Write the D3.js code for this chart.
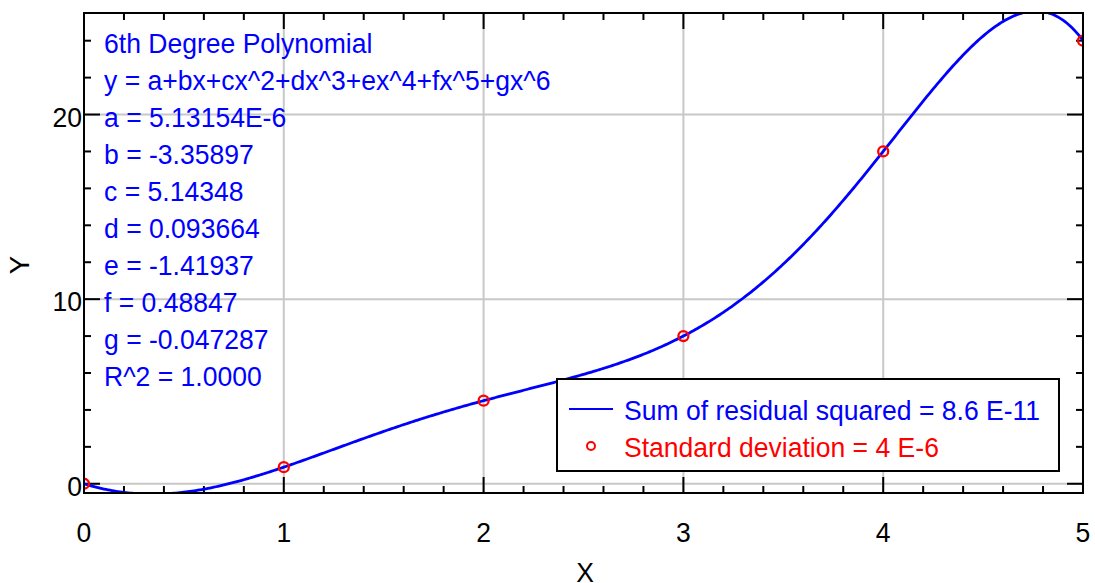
<!DOCTYPE html>
<html>
<head>
<meta charset="utf-8">
<script src="https://cdn.jsdelivr.net/npm/d3@7"></script>
<style>
body { margin: 0; background: #fff; }
text { font-family: "Liberation Sans", Arial, sans-serif; }
</style>
</head>
<body>
<svg id="chart" width="1095" height="583"></svg>
<script>
// data points
var xData = [0, 1, 2, 3, 4, 5];
var yData = [0, 0.9, 4.5, 8, 18, 24];

// fitted coefficients a..g, shown in the note
var coefs = [5.13154E-6, -3.35897, 5.14348, 0.093664, -1.41937, 0.48847, -0.047287];

var xTicks = [0, 1, 2, 3, 4, 5];
var yTicks = [0, 10, 20];

var infoLines = [
	"6th Degree Polynomial",
	"y = a+bx+cx^2+dx^3+ex^4+fx^5+gx^6",
	"a = 5.13154E-6",
	"b = -3.35897",
	"c = 5.14348",
	"d = 0.093664",
	"e = -1.41937",
	"f = 0.48847",
	"g = -0.047287",
	"R^2 = 1.0000"
];
var legendLabels = ["Sum of residual squared = 8.6 E-11", "Standard deviation = 4 E-6"];

var pLeft = 84, pRight = 1083, pTop = 13, pBottom = 493;
var fs = 27.5, squeeze = 0.965;

var svg = d3.select("#chart");

var x = d3.scaleLinear().domain([0, 5]).range([pLeft, pRight]);
var y = d3.scaleLinear().domain([-0.5, 25.5]).range([pBottom, pTop]);

var xMinor = d3.range(0, 5.001, 0.2);
var yMinor = d3.range(0, 25, 2);

// text is a bit taller and narrower than plain Arial in the original
function place(sel, fx, fy) {
	sel.attr("transform", function (d, i) {
		return "translate(" + fx(d, i) + "," + fy(d, i) + ") scale(" + squeeze + ",1)";
	}).style("font-size", fs + "px");
}

svg.append("defs").append("clipPath")
	.attr("id", "plotclip")
	.append("rect")
	.attr("x", pLeft).attr("y", pTop)
	.attr("width", pRight - pLeft).attr("height", pBottom - pTop);

// grid
svg.selectAll(".gx")
	.data(xTicks.slice(1, -1))
	.enter().append("line")
	.attr("class", "gx")
	.attr("x1", function (d) { return x(d); })
	.attr("x2", function (d) { return x(d); })
	.attr("y1", pTop).attr("y2", pBottom)
	.attr("stroke", "#c8c8c8").attr("stroke-width", 2);
svg.selectAll(".gy")
	.data(yTicks)
	.enter().append("line")
	.attr("class", "gy")
	.attr("y1", function (d) { return y(d); })
	.attr("y2", function (d) { return y(d); })
	.attr("x1", pLeft).attr("x2", pRight)
	.attr("stroke", "#c8c8c8").attr("stroke-width", 2);

// ticks (all pointing inward)
function tickLines(cls, data, fn) {
	svg.selectAll("." + cls)
		.data(data)
		.enter().append("line")
		.attr("class", cls)
		.each(fn)
		.attr("stroke", "#000").attr("stroke-width", 2);
}
function isMajorX(d) { return Math.abs(d - Math.round(d)) < 1e-6; }
function isMajorY(d) { return d % 10 == 0; }

tickLines("tb", xMinor, function (d) {
	var l = isMajorX(d) ? 16 : 7;
	d3.select(this).attr("x1", x(d)).attr("x2", x(d)).attr("y1", pBottom).attr("y2", pBottom - l);
});
tickLines("tt", xMinor, function (d) {
	var l = isMajorX(d) ? 16 : 7;
	d3.select(this).attr("x1", x(d)).attr("x2", x(d)).attr("y1", pTop).attr("y2", pTop + l);
});
tickLines("tl", yMinor, function (d) {
	var l = isMajorY(d) ? 16 : 7;
	d3.select(this).attr("y1", y(d)).attr("y2", y(d)).attr("x1", pLeft).attr("x2", pLeft + l);
});
tickLines("tr", yMinor, function (d) {
	var l = isMajorY(d) ? 16 : 7;
	d3.select(this).attr("y1", y(d)).attr("y2", y(d)).attr("x1", pRight).attr("x2", pRight - l);
});

// curve from the fitted polynomial
function poly(t) {
	var s = 0;
	for (var i = coefs.length - 1; i >= 0; i--) s = s * t + coefs[i];
	return s;
}
var curvePts = d3.range(0, 5.0001, 0.01).map(function (t) { return [t, poly(t)]; });

var plot = svg.append("g").attr("clip-path", "url(#plotclip)");
plot.append("path")
	.datum(curvePts)
	.attr("fill", "none")
	.attr("stroke", "#0000ff")
	.attr("stroke-width", 2.8)
	.attr("d", d3.line()
		.x(function (d) { return x(d[0]); })
		.y(function (d) { return y(d[1]); }));

plot.selectAll(".pt")
	.data(xData)
	.enter().append("circle")
	.attr("class", "pt")
	.attr("cx", function (d) { return x(d); })
	.attr("cy", function (d, i) { return y(yData[i]); })
	.attr("r", 5)
	.attr("fill", "none")
	.attr("stroke", "#ff0000")
	.attr("stroke-width", 2.3);

// frame
svg.append("rect")
	.attr("x", pLeft).attr("y", pTop)
	.attr("width", pRight - pLeft).attr("height", pBottom - pTop)
	.attr("fill", "none").attr("stroke", "#000").attr("stroke-width", 2);

// tick labels
svg.selectAll(".xl")
	.data(xTicks)
	.enter().append("text")
	.attr("class", "xl")
	.attr("text-anchor", "middle")
	.call(place, function (d) { return x(d); }, function () { return 542; })
	.text(function (d) { return d; });
svg.selectAll(".yl")
	.data(yTicks)
	.enter().append("text")
	.attr("class", "yl")
	.attr("text-anchor", "end")
	.call(place, function () { return 82; }, function (d) { return y(d) + 12; })
	.text(function (d) { return d; });

// axis titles
svg.append("text")
	.attr("text-anchor", "middle")
	.call(place, function () { return 585; }, function () { return 582; })
	.text("X");
svg.append("text")
	.attr("transform", "translate(29,265) rotate(-90)")
	.attr("text-anchor", "middle")
	.style("font-size", fs + "px")
	.text("Y");

// fit note
svg.selectAll(".info")
	.data(infoLines)
	.enter().append("text")
	.attr("class", "info")
	.attr("fill", "#0000ff")
	.call(place, function () { return 104; }, function (d, i) { return 53 + i * 37; })
	.text(function (d) { return d; });

// legend
var lg = svg.append("g");
lg.append("rect")
	.attr("x", 557).attr("y", 379)
	.attr("width", 502).attr("height", 92)
	.attr("fill", "#fff").attr("stroke", "#000").attr("stroke-width", 2);
lg.append("line")
	.attr("x1", 569).attr("x2", 613)
	.attr("y1", 409).attr("y2", 409)
	.attr("stroke", "#0000ff").attr("stroke-width", 2);
lg.append("circle")
	.attr("cx", 591).attr("cy", 446).attr("r", 4)
	.attr("fill", "none").attr("stroke", "#ff0000").attr("stroke-width", 2);
lg.selectAll(".lt")
	.data(legendLabels)
	.enter().append("text")
	.attr("class", "lt")
	.attr("fill", function (d, i) { return i == 0 ? "#0000ff" : "#ff0000"; })
	.call(place, function () { return 624; }, function (d, i) { return 420 + i * 37; })
	.text(function (d) { return d; });
</script>
</body>
</html>
